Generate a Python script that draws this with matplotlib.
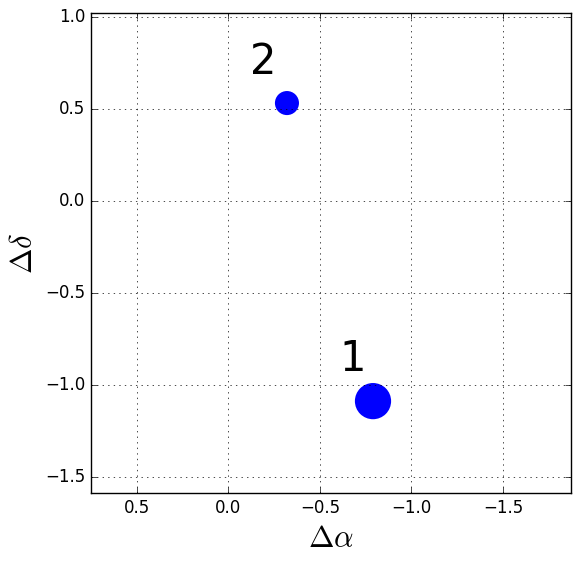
import matplotlib
matplotlib.use('Agg')
import matplotlib.pyplot as plt

plt.style.use('classic')

# offsets of the two sources
dra = [-0.79, -0.32]
ddec = [-1.09, 0.53]
sizes = [680, 300]
names = ['1', '2']
label_x = [-0.68, -0.19]
label_y = [-0.86, 0.755]

fig = plt.figure(figsize=(5.8, 5.61), dpi=100, facecolor='white')
ax = fig.add_axes([0.157, 0.121, 0.827, 0.856])
ax.scatter(dra, ddec, s=sizes, c='b', edgecolors='none')
for n, x, y in zip(names, label_x, label_y):
    ax.text(x, y, n, fontsize=30, ha='center', va='center')

ax.set_xlim(0.75, -1.87)
ax.set_ylim(-1.59, 1.02)
ax.set_xticks([0.5, 0.0, -0.5, -1.0, -1.5])
ax.set_yticks([-1.5, -1.0, -0.5, 0.0, 0.5, 1.0])
ax.tick_params(labelsize=12)
ax.grid(True)
ax.set_xlabel(r'$\Delta\alpha$', fontsize=22)
ax.set_ylabel(r'$\Delta\delta$', fontsize=22)

fig.savefig('out.png', dpi=100, facecolor='white')
